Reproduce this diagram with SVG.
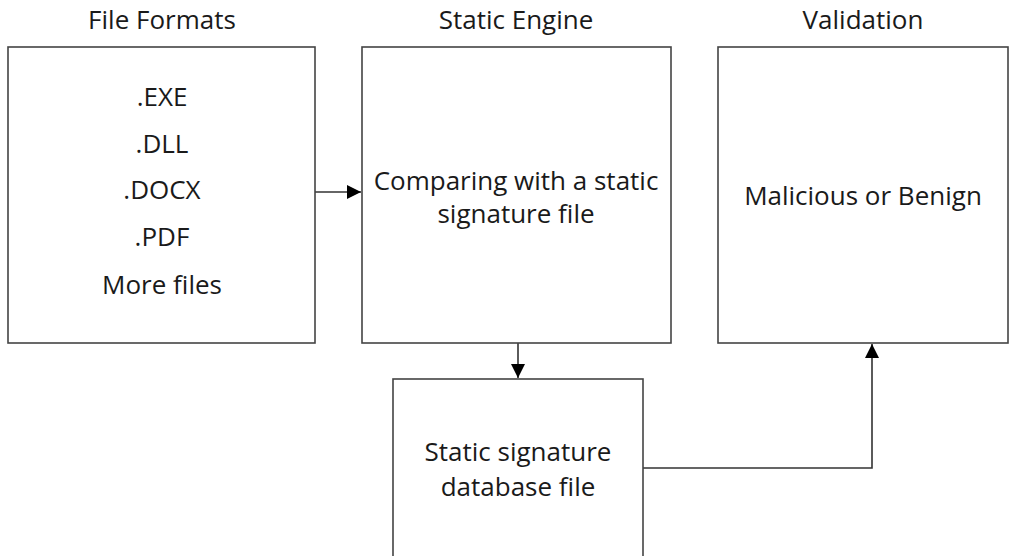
<svg xmlns="http://www.w3.org/2000/svg" width="1016" height="556" viewBox="0 0 1016 556">
<style>
.box{fill:#fff;stroke:#444;stroke-width:1.6}
.t{font-family:"Open Sans","Liberation Sans",sans-serif;font-size:26px;fill:#1a1a1a;text-anchor:middle}
.c{fill:none;stroke:#333;stroke-width:1.6}
</style>
<defs>
<marker id="ah2" viewBox="0 0 10 10" refX="10" refY="5" markerWidth="14" markerHeight="14" markerUnits="userSpaceOnUse" orient="auto"><path d="M0,0L10,5L0,10z" fill="#000"/></marker>
</defs>
<rect width="1016" height="556" fill="#fff"/>
<g id="connectors">
<path class="c" d="M315,192H361" marker-end="url(#ah2)"/>
<path class="c" d="M518,343V378" marker-end="url(#ah2)"/>
<path class="c" d="M643,468H872V344" marker-end="url(#ah2)"/>
</g>
<g id="file-formats">
<text class="t" x="162" y="29">File Formats</text>
<rect class="box" x="8" y="47" width="307" height="296"/>
<text class="t" x="162" y="106">.EXE</text>
<text class="t" x="162" y="153">.DLL</text>
<text class="t" x="162" y="199">.DOCX</text>
<text class="t" x="162" y="246">.PDF</text>
<text class="t" x="162" y="294">More files</text>
</g>
<g id="static-engine">
<text class="t" x="516" y="29">Static Engine</text>
<rect class="box" x="362" y="47" width="309" height="296"/>
<text class="t" x="516" y="190">Comparing with a static</text>
<text class="t" x="516" y="223">signature file</text>
</g>
<g id="validation">
<text class="t" x="863" y="29">Validation</text>
<rect class="box" x="718" y="47" width="290" height="296"/>
<text class="t" x="863" y="205">Malicious or Benign</text>
</g>
<g id="database">
<rect class="box" x="393" y="379" width="250" height="200"/>
<text class="t" x="518" y="461">Static signature</text>
<text class="t" x="518" y="496">database file</text>
</g>
</svg>
